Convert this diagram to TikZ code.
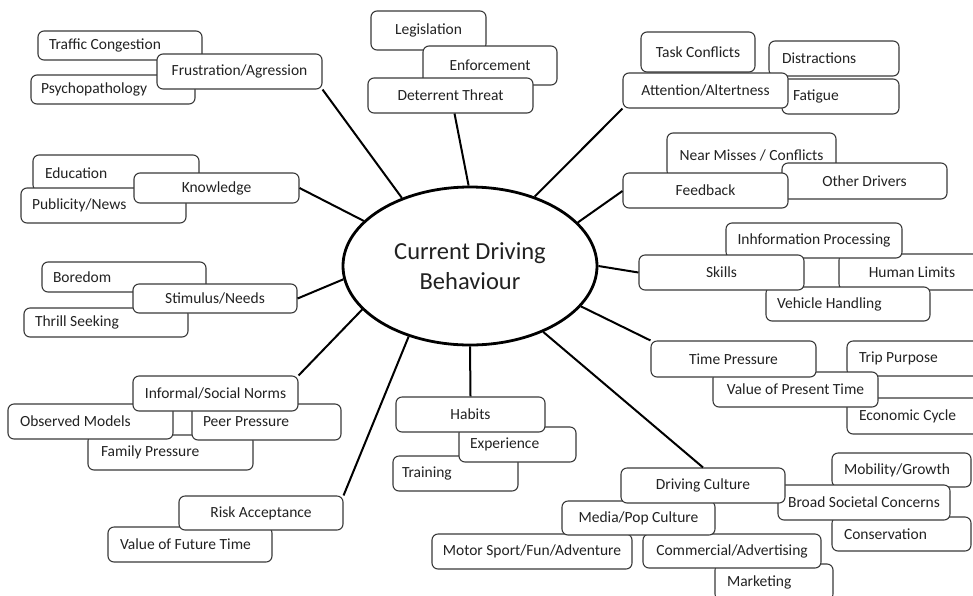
\documentclass[tikz,border=0pt]{standalone}
\usepackage{fontspec}
\setmainfont{Carlito}
\usetikzlibrary{shapes.geometric}
\definecolor{bdr}{HTML}{3A3A3A}
\definecolor{txt}{HTML}{222222}
\tikzset{
 bx/.style={draw=bdr, fill=white, rounded corners=6pt, line width=1.1pt, text=txt,
   font=\fontsize{15.5}{18}\selectfont, inner ysep=0pt, inner xsep=0pt},
 conn/.style={line width=2pt, draw=black},
 hub/.style={ellipse, draw=black, fill=white, line width=2.8pt, inner sep=0pt, text=txt,
   font=\fontsize{24.5}{30}\selectfont, align=center}
}
\newcommand\BoxC[6]{\node[bx, minimum width={#4-#2}, minimum height={#5-#3}] (#1) at ({(#2+#4)/2},{-(#3+#5)/2}) {#6};}
\newcommand\BoxL[7]{\pgfmathsetmacro\mytw{#4-#2-2*#7}\node[bx, minimum width={#4-#2}, minimum height={#5-#3}, text width=\mytw pt, inner xsep=#7pt, align=left] (#1) at ({(#2+#4)/2},{-(#3+#5)/2}) {\spaceskip=0pt\xspaceskip=0pt #6};}
\begin{document}
\begin{tikzpicture}[x=1pt,y=1pt]
\useasboundingbox (0,0) rectangle (973,-595);
\fill[white] (0,0) rectangle (973,-595);
% hub
\node[hub, minimum width=254, minimum height=158] (c) at (470,-266) {Current Driving\\Behaviour};
% cluster boxes
\BoxL{tc}{38}{31}{202}{60}{Traffic Congestion}{11}
\BoxL{psy}{31}{75}{195}{104}{Psychopathology}{10}
\BoxC{fru}{157}{54}{322}{89}{Frustration/Agression}
\BoxC{leg}{371}{11}{486}{50}{Legislation}
\BoxC{enf}{423}{46}{557}{85}{Enforcement}
\BoxC{det}{368}{78}{533}{113}{Deterrent Threat}
\BoxC{task}{641}{32}{755}{72}{Task Conflicts}
\BoxL{dis}{769}{41}{899}{76}{Distractions}{13}
\BoxL{fat}{782}{79}{899}{114}{Fatigue}{11}
\BoxC{att}{623}{73}{788}{108}{Attention/Altertness}
\BoxC{near}{667}{133}{836}{177}{Near Misses / Conflicts}
\BoxC{oth}{782}{163}{947}{199}{Other Drivers}
\BoxC{fb}{623}{173}{788}{208}{Feedback}
\BoxL{edu}{33}{155}{199}{191}{Education}{12}
\BoxL{pub}{21}{188}{186}{223}{Publicity/News}{11}
\BoxC{kn}{134}{173}{299}{203}{Knowledge}
\BoxL{bor}{42}{262}{206}{292}{Boredom}{11}
\BoxL{thr}{24}{308}{188}{337}{Thrill Seeking}{11}
\BoxC{stim}{133}{284}{297}{313}{Stimulus/Needs}
\BoxC{hl}{839}{254}{985}{290}{Human Limits}
\BoxC{inh}{726}{223}{902}{258}{Inhformation Processing}
\BoxL{vh}{766}{287}{930}{321}{Vehicle Handling}{11}
\BoxC{sk}{639}{255}{804}{290}{Skills}
\BoxL{trip}{847}{341}{990}{376}{Trip Purpose}{12}
\BoxL{eco}{847}{398}{990}{434}{Economic Cycle}{12}
\BoxC{val}{713}{372}{878}{407}{Value of Present Time}
\BoxC{tp}{651}{341}{816}{377}{Time Pressure}
\BoxL{fam}{88}{435}{253}{470}{Family Pressure}{13}
\BoxL{obs}{8}{404}{173}{439}{Observed Models}{12}
\BoxL{peer}{192}{404}{341}{440}{Peer Pressure}{11}
\BoxC{inf}{133}{376}{298}{411}{Informal/Social Norms}
\BoxL{vft}{108}{527}{272}{562}{Value of Future Time}{12}
\BoxC{risk}{179}{496}{343}{530}{Risk Acceptance}
\BoxL{tr}{393}{456}{518}{491}{Training}{9}
\BoxL{exp}{459}{427}{576}{462}{Experience}{11}
\BoxC{hab}{396}{397}{545}{432}{Habits}
\BoxL{mob}{832}{453}{971}{487}{Mobility/Growth}{12}
\BoxL{con}{832}{517}{971}{551}{Conservation}{12}
\BoxC{bsc}{778}{485}{950}{520}{Broad Societal Concerns}
\BoxL{mkt}{715}{564}{833}{600}{Marketing}{12}
\BoxC{com}{643}{534}{821}{568}{Commercial/Advertising}
\BoxC{mot}{432}{534}{632}{569}{Motor Sport/Fun/Adventure}
\BoxC{med}{562}{501}{715}{535}{Media/Pop Culture}
\BoxC{dc}{621}{468}{785}{503}{Driving Culture}
% connectors
\draw[conn] (fru.south east) -- (c.135);
\draw[conn] ([xshift=4pt]det.south) -- (c.91);
\draw[conn] (att.south west) -- (c.47);
\draw[conn] ([yshift=-0.5pt]fb.west) -- (c.22);
\draw[conn] (sk.west) -- (c.0);
\draw[conn] (tp.north west) -- (c.340);
\draw[conn] (dc.north) -- (c.318);
\draw[conn] (hab.north) -- (c.270);
\draw[conn] (risk.north east) -- (c.229);
\draw[conn] (inf.north east) -- (c.202);
\draw[conn] (stim.east) -- (c.186);
\draw[conn] (kn.east) -- (c.157);
\end{tikzpicture}
\end{document}
